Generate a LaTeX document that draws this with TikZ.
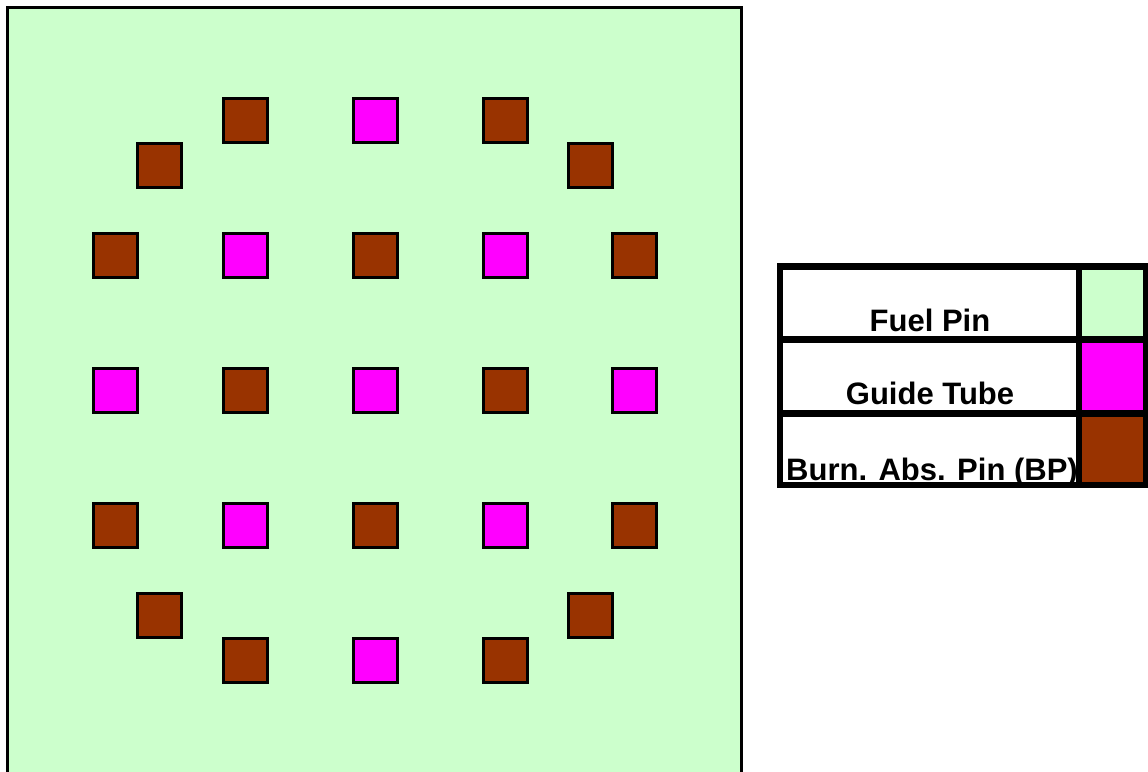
\documentclass[tikz,border=0pt]{standalone}
\usepackage{fontspec}
\setmainfont{Liberation Sans}
\definecolor{fuelgreen}{HTML}{CCFFCC}
\definecolor{tubemagenta}{HTML}{FF00FF}
\definecolor{bpbrown}{HTML}{993300}
\tikzset{
  gt/.style={fill=tubemagenta,draw=black,line width=1.5pt},
  bp/.style={fill=bpbrown,draw=black,line width=1.5pt},
  legendtext/.style={anchor=base,font=\bfseries\fontsize{15.5}{18}\selectfont,inner sep=0pt}
}
\begin{document}
\begin{tikzpicture}[x=0.5pt,y=-0.5pt]
\useasboundingbox (0,0) rectangle (1148,772);
%\draw[step=43.3,gray,very thin] (0,0) grid (1148,772);
% assembly
\fill[fuelgreen] (7.5,7.5) rectangle (741.5,800);
\draw[line width=1.5pt] (7.5,800) -- (7.5,7.5) -- (741.5,7.5) -- (741.5,800);
% row 1
\draw[bp] (223,98) rectangle ++(44,44);
\draw[gt] (353,98) rectangle ++(44,44);
\draw[bp] (483,98) rectangle ++(44,44);
% row 2
\draw[bp] (137,143) rectangle ++(44,44);
\draw[bp] (568,143) rectangle ++(44,44);
% row 3
\draw[bp] (93,233) rectangle ++(44,44);
\draw[gt] (223,233) rectangle ++(44,44);
\draw[bp] (353,233) rectangle ++(44,44);
\draw[gt] (483,233) rectangle ++(44,44);
\draw[bp] (612,233) rectangle ++(44,44);
% row 4
\draw[gt] (93,368) rectangle ++(44,44);
\draw[bp] (223,368) rectangle ++(44,44);
\draw[gt] (353,368) rectangle ++(44,44);
\draw[bp] (483,368) rectangle ++(44,44);
\draw[gt] (612,368) rectangle ++(44,44);
% row 5
\draw[bp] (93,503) rectangle ++(44,44);
\draw[gt] (223,503) rectangle ++(44,44);
\draw[bp] (353,503) rectangle ++(44,44);
\draw[gt] (483,503) rectangle ++(44,44);
\draw[bp] (612,503) rectangle ++(44,44);
% row 6
\draw[bp] (137,593) rectangle ++(44,44);
\draw[bp] (568,593) rectangle ++(44,44);
% row 7
\draw[bp] (223,638) rectangle ++(44,44);
\draw[gt] (353,638) rectangle ++(44,44);
\draw[bp] (483,638) rectangle ++(44,44);
% legend
\fill[white] (780,266.5) rectangle (1079,485);
\node[legendtext] (fuel) at (930,331) {Fuel Pin};
\node[legendtext] (tube) at (930,404) {Guide Tube};
\node[legendtext] (burn) at (932,480) {Burn. Abs. Pin (BP)};
\fill[fuelgreen] (1079,266.5) rectangle (1146.5,339);
\fill[tubemagenta] (1079,339) rectangle (1146.5,413);
\fill[bpbrown] (1079,413) rectangle (1146.5,485);
\draw[line width=3.25pt] (780,266.5) rectangle (1146.5,485);
\draw[line width=3.5pt] (780,339) -- (1146.5,339);
\draw[line width=3.5pt] (780,413) -- (1146.5,413);
\draw[line width=3.25pt] (1079,266.5) -- (1079,485);
\end{tikzpicture}
\end{document}
